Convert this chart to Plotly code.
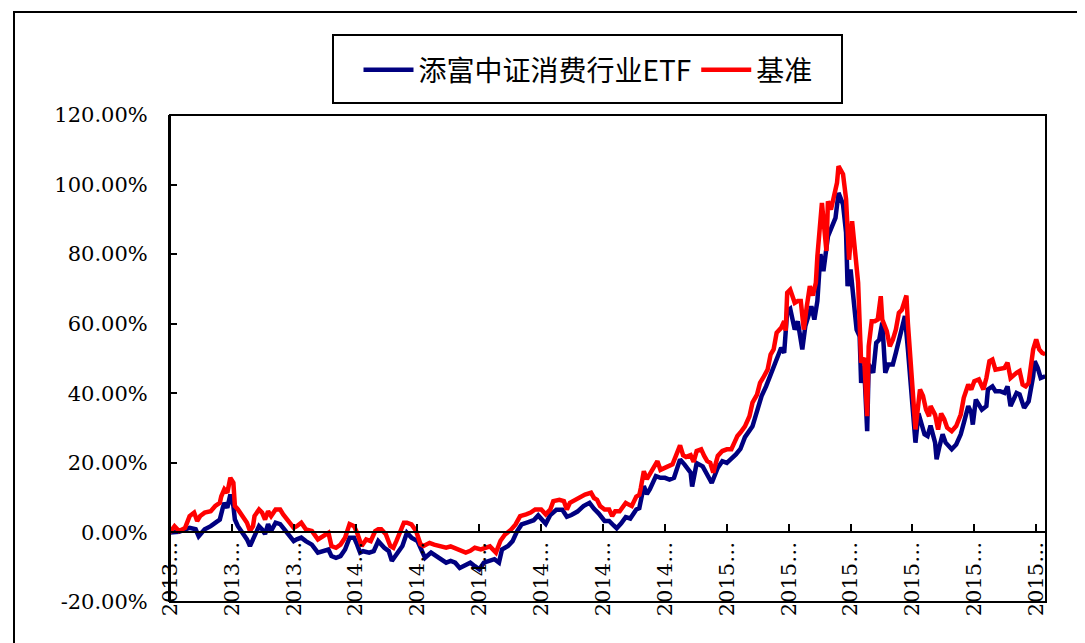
import plotly.graph_objects as go

# trading-day index since inception and cumulative return (%)
fund_day = [0, 6, 10, 13, 17, 19, 21, 23, 27, 30, 33, 35, 36, 38, 40, 42, 43, 45, 49, 51,
            53, 55, 56, 59, 61, 63, 65, 67, 70, 73, 75, 78, 82, 84, 87, 90, 94, 98, 102, 105,
            107, 110, 113, 116, 119, 122, 124, 126, 128, 132, 135, 138, 142, 145, 147, 150, 154, 157, 160, 164,
            167, 169, 173, 176, 179, 183, 186, 189, 192, 196, 199, 202, 205, 208, 211, 215, 218, 220, 224, 227,
            230, 233, 237, 241, 244, 249, 252, 256, 260, 263, 266, 270, 274, 278, 281, 284, 288, 291, 294, 296,
            299, 302, 305, 309, 311, 314, 316, 318, 322, 325, 328, 331, 334, 338, 341, 345, 346, 349, 353, 356,
            359, 363, 366, 369, 372, 375, 378, 381, 386, 389, 392, 395, 399, 402, 405, 407, 408, 409, 411, 414,
            416, 419, 421, 425, 427, 429, 431, 433, 436, 438, 441, 443, 446, 448, 449, 451, 453, 455, 457, 458,
            460, 462, 463, 466, 468, 470, 472, 474, 476, 479, 481, 484, 487, 489, 492, 494, 496, 498, 500, 502,
            504, 507, 508, 510, 512, 514, 518, 521, 524, 526, 529, 531, 532, 534, 538, 541, 542, 545, 547, 550,
            553, 555, 557, 561, 563, 566, 569, 572, 573, 575, 577, 580]
fund_ret = [0, 0.2, 0.9, 1.3, 0.9, -1.1, -0.1, 0.9, 1.8, 2.8, 3.7, 7.1, 8.5, 7.1, 10.9, 7.6, 3.7, 1.8, -0.5, -2.0,
            -3.9, -2.0, -0.5, 1.8, 0.9, -0.5, 2.4, 0.4, 2.8, 2.4, 1.3, -0.5, -2.5, -2.0, -1.5, -2.5, -3.5, -5.8, -5.4, -4.9,
            -6.8, -7.3, -6.8, -4.9, -1.5, -1.5, -3.5, -5.8, -5.4, -5.8, -5.4, -2.5, -4.4, -5.4, -8.2, -6.3, -3.9, -0.1, -1.5, -2.5,
            -5.4, -7.3, -5.8, -6.7, -7.7, -8.7, -8.2, -8.7, -10.2, -9.2, -8.7, -9.7, -10.6, -8.7, -8.2, -7.7, -8.7, -4.9, -3.9, -2.5,
            0.3, 2.3, 2.9, 3.5, 4.9, 2.5, 5.0, 6.5, 6.5, 4.5, 5.0, 6.0, 7.6, 8.5, 6.8, 5.5, 3.3, 3.3, 2.0, 1.2,
            2.6, 4.4, 4.0, 6.6, 7.0, 13.3, 11.0, 12.4, 16.2, 15.7, 15.7, 15.2, 15.7, 21.0, 19.5, 17.2, 13.2, 19.9, 19.0, 16.6,
            14.2, 18.6, 20.5, 20.0, 21.0, 22.4, 24.0, 27.4, 30.5, 34.4, 39.2, 42.0, 46.8, 49.7, 53.1, 51.6, 57.8, 63.6, 64.3, 58.3,
            60.7, 52.6, 59.3, 65.0, 61.2, 66.5, 80.0, 75.1, 85.1, 87.1, 90.4, 97.6, 94.3, 86.2, 70.8, 75.6, 65.0, 58.3, 56.4, 43.0,
            47.8, 29.1, 48.3, 45.9, 54.5, 55.4, 60.3, 45.9, 48.3, 48.3, 51.6, 56.4, 62.2, 52.6, 37.3, 25.8, 34.2, 30.5, 28.2, 27.7,
            30.7, 25.8, 21.0, 24.9, 28.2, 25.8, 23.9, 25.3, 28.2, 31.4, 36.3, 34.4, 31.0, 38.2, 35.3, 36.3, 41.1, 42.0, 40.6, 40.6,
            40.1, 42.0, 36.3, 40.1, 39.7, 35.8, 37.7, 44.9, 49.2, 47.3, 44.4, 44.9]

bench_day = [0, 3, 6, 8, 10, 13, 16, 18, 20, 23, 27, 30, 33, 34, 36, 38, 40, 42, 43, 45,
             49, 51, 53, 55, 56, 59, 61, 63, 65, 67, 70, 73, 75, 78, 82, 84, 87, 90, 94, 98,
             102, 105, 107, 110, 113, 116, 119, 122, 124, 127, 130, 133, 136, 138, 140, 143, 146, 148, 150, 153,
             155, 157, 160, 163, 166, 168, 172, 175, 179, 183, 186, 189, 192, 196, 199, 202, 206, 209, 212, 216,
             219, 222, 226, 229, 232, 236, 239, 242, 246, 249, 252, 254, 258, 261, 263, 265, 269, 272, 275, 279,
             281, 283, 285, 288, 291, 293, 295, 298, 302, 304, 306, 309, 311, 312, 314, 316, 320, 323, 325, 327,
             330, 333, 336, 338, 340, 342, 345, 347, 349, 352, 354, 356, 358, 360, 363, 366, 369, 372, 374, 376,
             378, 381, 384, 386, 389, 391, 393, 396, 398, 400, 402, 405, 407, 408, 409, 411, 414, 416, 418, 420,
             422, 424, 426, 428, 429, 431, 432, 435, 436, 438, 440, 442, 443, 446, 448, 450, 452, 454, 456, 458,
             460, 462, 463, 465, 467, 469, 471, 472, 475, 477, 479, 481, 483, 485, 488, 489, 491, 494, 497, 499,
             501, 503, 504, 507, 509, 511, 513, 515, 518, 521, 524, 526, 529, 531, 533, 536, 539, 541, 543, 545,
             547, 550, 553, 555, 557, 561, 563, 565, 567, 569, 572, 574, 576, 578, 580]
bench_ret = [0, 1.8, 0.4, 0.9, 1.3, 4.7, 5.7, 3.3, 4.7, 5.7, 6.1, 7.6, 8.5, 10.4, 12.4, 11.4, 15.7, 14.3, 7.6, 6.6,
             3.7, 2.8, 0.4, 1.8, 4.7, 6.6, 5.7, 3.7, 6.1, 4.7, 6.6, 6.6, 5.2, 3.7, 1.3, 1.8, 2.8, 0.9, 0.4, -2.0,
             -1.1, -0.1, -3.9, -4.4, -3.5, -1.5, 2.4, 1.8, -0.1, -3.9, -2.0, -2.5, 0.4, 0.9, 0.9, -0.5, -3.9, -4.4, -2.5, 0.4,
             2.8, 2.8, 2.3, 0.5, -3.4, -3.9, -3.0, -3.5, -4.0, -4.4, -4.0, -4.5, -5.0, -5.8, -5.3, -4.4, -4.9, -4.5, -4.0, -5.8,
             -2.4, -0.6, 0.8, 2.3, 4.7, 5.2, 5.7, 6.6, 6.6, 5.2, 6.6, 9.0, 9.4, 9.0, 6.6, 8.5, 9.4, 9.9, 10.9, 11.4,
             9.9, 9.4, 7.6, 6.6, 6.6, 4.7, 6.1, 6.1, 8.5, 8.0, 7.6, 10.3, 10.8, 12.8, 17.6, 15.3, 18.1, 20.5, 18.0, 18.5,
             19.0, 19.6, 23.4, 25.0, 22.2, 21.7, 22.2, 20.3, 23.4, 23.9, 22.0, 20.5, 20.0, 17.2, 22.0, 23.4, 23.9, 23.9, 25.8, 27.7,
             28.7, 30.5, 33.4, 37.3, 39.6, 43.0, 44.4, 46.8, 51.1, 52.6, 57.4, 58.8, 60.7, 58.0, 68.9, 69.8, 66.0, 66.5, 66.5, 58.3,
             65.0, 70.8, 68.1, 71.8, 79.4, 88.0, 94.7, 80.9, 95.2, 92.8, 96.6, 100.5, 105.3, 103.0, 95.9, 78.4, 89.5, 80.4, 71.8, 48.8,
             50.2, 33.4, 53.5, 60.7, 60.7, 61.2, 67.9, 61.2, 57.9, 53.5, 55.4, 58.3, 63.1, 64.0, 68.1, 60.0, 46.8, 29.6, 41.1, 39.2,
             35.3, 33.4, 36.3, 33.8, 29.6, 34.2, 32.6, 30.1, 29.1, 30.6, 33.9, 38.7, 42.5, 41.1, 43.5, 44.0, 41.1, 44.4, 49.2, 49.7,
             46.8, 46.9, 47.3, 48.8, 44.4, 45.9, 46.4, 42.5, 42.0, 43.0, 52.6, 55.5, 52.6, 51.6, 51.2]

x_tick_days = [0, 41, 82, 123, 164, 205, 246, 287, 328, 369, 410, 451, 492, 533, 574]
x_tick_text = ["2013…"] * 3 + ["2014…"] * 6 + ["2015…"] * 6
y_tick_vals = [-20, 0, 20, 40, 60, 80, 100, 120]
y_tick_text = ["-20.00%", "0.00%", "20.00%", "40.00%", "60.00%", "80.00%", "100.00%", "120.00%"]

series_names = ["添富中证消费行业ETF", "基准"]
series_colors = ["#000080", "#FF0000"]

W, H = 1085, 643
OFF = 8  # page body margin
# desired plot area on screen: x 170..1046, y 115..602
L, T = 170 - OFF, 115 - OFF
R = W - (1046 - OFF)
B = H - (602 - OFF)
pw, ph = W - L - R, H - T - B


def px(xs):
    return (xs - OFF - L) / pw


def py(ys):
    return (H - B - (ys - OFF)) / ph


fig = go.Figure()
fig.add_trace(go.Scatter(x=fund_day, y=fund_ret, mode="lines", name=series_names[0],
                         line=dict(color=series_colors[0], width=4.5)))
fig.add_trace(go.Scatter(x=bench_day, y=bench_ret, mode="lines", name=series_names[1],
                         line=dict(color=series_colors[1], width=4.5)))

tick_font = dict(family="DejaVu Serif", size=21, color="black")

fig.update_layout(
    width=W, height=H,
    margin=dict(l=L, r=R, t=T, b=B),
    paper_bgcolor="white", plot_bgcolor="white",
    showlegend=True,
    legend=dict(orientation="h", x=px(588), y=py(70), xanchor="center", yanchor="middle",
                font=dict(family="Noto Sans CJK SC", size=28, color="black"),
                bgcolor="rgba(0,0,0,0)", borderwidth=0, itemwidth=50),
    xaxis=dict(range=[0, 580.5], tickmode="array", tickvals=x_tick_days, ticktext=x_tick_text,
               tickangle=-90, ticks="inside", ticklen=7, tickwidth=2, tickcolor="black",
               showline=True, linecolor="black", linewidth=2, showgrid=False, zeroline=False,
               anchor="free", position=(0 - (-20)) / 140, tickfont=tick_font),
    yaxis=dict(range=[-20, 120], tickmode="array", tickvals=y_tick_vals, ticktext=y_tick_text,
               ticks="inside", ticklen=7, tickwidth=2, tickcolor="black",
               showline=True, linecolor="black", linewidth=2, showgrid=False, zeroline=False,
               ticklabelstandoff=16, tickfont=tick_font),
    shapes=[
        dict(type="rect", xref="paper", yref="paper", x0=0, x1=1, y0=0, y1=1,
             line=dict(color="black", width=2), layer="above"),
        dict(type="rect", xref="paper", yref="paper", x0=px(333), x1=px(842), y0=py(103), y1=py(35),
             line=dict(color="black", width=2)),
        dict(type="rect", xref="paper", yref="paper", x0=px(14), x1=px(1100), y0=py(660), y1=py(12),
             line=dict(color="black", width=2)),
    ],
)

fig.write_html("out.html")
